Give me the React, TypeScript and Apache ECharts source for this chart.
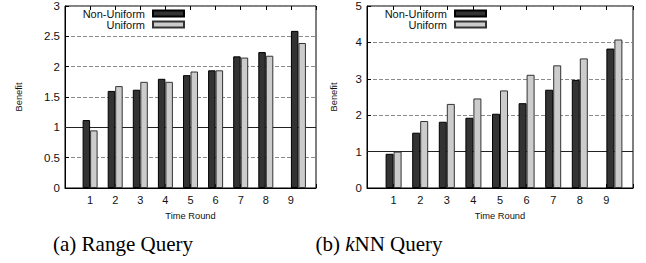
import React, { useEffect, useRef } from "react";
import * as echarts from "echarts";

const rounds = [1, 2, 3, 4, 5, 6, 7, 8, 9];
// horizontal centre of each bar pair (the last pair is drawn slightly right in the original)
const groupPos = [1, 2, 3, 4, 5, 6, 7, 8, 9.3];
const rangeNonUniform = [1.12, 1.6, 1.62, 1.8, 1.86, 1.94, 2.17, 2.24, 2.59];
const rangeUniform = [0.95, 1.68, 1.75, 1.75, 1.92, 1.94, 2.15, 2.18, 2.39];
const knnNonUniform = [0.94, 1.52, 1.82, 1.93, 2.04, 2.33, 2.7, 2.97, 3.83];
const knnUniform = [1.0, 1.84, 2.31, 2.46, 2.68, 3.11, 3.37, 3.56, 4.08];
const rangeYTicks = { min: 0, max: 3, interval: 0.5 };
const knnYTicks = { min: 0, max: 5, interval: 1 };
const xRange = { min: 0, max: 10, interval: 1 };
const seriesNames = ["Non-Uniform", "Uniform"];
const captions = ["(a) Range Query", "(b) {i|k}NN Query"];

const SANS = "'Liberation Sans', Arial, Helvetica, sans-serif";
const SERIF = "'Liberation Serif', 'Times New Roman', serif";
const DARK = "#333333";
const LIGHT = "#cccccc";

export default function App() {
  const ref = useRef<HTMLDivElement>(null);
  useEffect(() => {
    if (!ref.current) return;
    const chart = echarts.init(ref.current, undefined, { renderer: "svg" });
    const grids = [
      { left: 65, top: 6, width: 251, height: 182 },
      { left: 367, top: 6, width: 266, height: 182 },
    ];
    const yCfg = [rangeYTicks, knnYTicks];
    const nameGaps = [42, 29];
    const barW = [7.5, 8];
    const xAxes: any[] = [];
    const yAxes: any[] = [];
    grids.forEach((g, i) => {
      xAxes.push({
        type: "value",
        gridIndex: i,
        ...xRange,
        name: "Time Round",
        nameLocation: "middle",
        nameGap: 23,
        nameTextStyle: { fontFamily: SANS, fontSize: 9.3, color: "#111" },
        axisLine: { show: true, lineStyle: { color: "#000", width: 1 } },
        axisTick: { show: true, inside: true, length: 4, lineStyle: { color: "#000" } },
        axisLabel: {
          fontFamily: SANS,
          fontSize: 11,
          color: "#111",
          margin: 6,
          formatter: (v: number) => (rounds.includes(v) ? String(v) : ""),
        },
        splitLine: { show: false },
      });
      yAxes.push({
        type: "value",
        gridIndex: i,
        ...yCfg[i],
        name: "Benefit",
        nameLocation: "middle",
        nameGap: nameGaps[i],
        nameTextStyle: { fontFamily: SANS, fontSize: 9.3, color: "#111" },
        axisLine: { show: true, lineStyle: { color: "#000", width: 1 } },
        axisTick: { show: true, inside: true, length: 4, lineStyle: { color: "#000" } },
        axisLabel: { fontFamily: SANS, fontSize: 11.5, color: "#111", margin: 5 },
        splitLine: { show: true, lineStyle: { color: "#8a8a8a", type: [4, 2], width: 1 } },
      });
    });
    grids.forEach((g, i) => {
      xAxes.push({
        type: "value",
        gridIndex: i,
        position: "top",
        ...xRange,
        axisLine: { show: false },
        axisTick: { show: true, inside: true, length: 4, lineStyle: { color: "#000" } },
        axisLabel: { show: false },
        splitLine: { show: false },
      });
    });

    const data = [
      [rangeNonUniform, rangeUniform],
      [knnNonUniform, knnUniform],
    ];
    const series: any[] = [];
    data.forEach((pair, gi) => {
      pair.forEach((vals, si) => {
        series.push({
          type: "bar",
          name: seriesNames[si],
          xAxisIndex: gi,
          yAxisIndex: gi,
          barWidth: barW[gi],
          barGap: "0%",
          data: vals.map((v, k) => [groupPos[k], v]),
          itemStyle: {
            color: si === 0 ? DARK : LIGHT,
            borderColor: si === 0 ? "#000" : "#333",
            borderWidth: 1,
          },
          z: 3,
          markLine:
            si === 0
              ? {
                  silent: true,
                  symbol: "none",
                  z: 1,
                  label: { show: false },
                  lineStyle: { color: "#222", type: "solid", width: 1.2 },
                  data: [{ yAxis: 1 }],
                }
              : undefined,
        });
      });
    });

    const legendRights = [461, 159];
    const legends: any[] = [];
    legendRights.forEach((r) => {
      seriesNames.forEach((n, k) => {
        legends.push({
          data: [n],
          right: r,
          top: k === 0 ? 8 : 19,
          orient: "vertical",
          align: "right",
          padding: 0,
          icon: "rect",
          itemWidth: 31,
          itemHeight: 6,
          selectedMode: false,
          textStyle: { fontFamily: SANS, fontSize: 11, color: "#111", padding: [0, 3, 0, 0] },
        });
      });
    });

    const captionCenters = [123, 379];
    chart.setOption({
      animation: false,
      backgroundColor: "#fff",
      grid: grids.map((g) => ({ ...g, show: true, borderColor: "#000", borderWidth: 1, backgroundColor: "transparent" })),
      xAxis: xAxes,
      yAxis: yAxes,
      legend: legends,
      series,
      graphic: captions.map((c, i) => ({
        type: "text",
        x: captionCenters[i],
        y: 244,
        style: {
          text: c,
          fontFamily: SERIF,
          fontSize: 21,
          fill: "#000",
          textAlign: "center",
          textVerticalAlign: "middle",
          rich: {
            i: { fontFamily: SERIF, fontSize: 21, fontStyle: "italic", fill: "#000" },
          },
        },
      })),
    });
    return () => chart.dispose();
  }, []);
  return (
    <div
      ref={ref}
      style={{ position: "fixed", left: 0, top: 0, width: 646, height: 263, background: "#fff" }}
    />
  );
}
